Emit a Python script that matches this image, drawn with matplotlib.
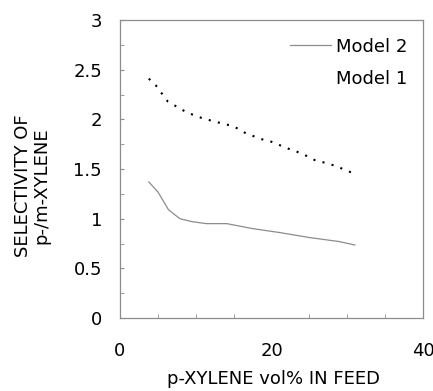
import matplotlib
matplotlib.use("Agg")
import matplotlib.pyplot as plt
from matplotlib.ticker import MultipleLocator
from matplotlib.lines import Line2D

plt.rcParams['font.family'] = ['DejaVu Sans']

# Model 2 (solid gray line)
m2_x = [3.8, 5.0, 6.4, 7.9, 9.5, 11.4, 14.1, 17.5, 21.1, 25.0, 28.9, 31.0]
m2_y = [1.37, 1.27, 1.09, 1.00, 0.97, 0.95, 0.95, 0.90, 0.86, 0.81, 0.77, 0.735]

# Model 1 (dotted black line)
m1_x = [3.8, 4.75, 6.3, 8.8, 10.9, 12.9, 15.0, 16.6, 18.7, 19.8, 22.7, 23.9, 25.7, 27.7, 28.8, 31.0]
m1_y = [2.41, 2.34, 2.18, 2.07, 2.01, 1.97, 1.93, 1.86, 1.80, 1.78, 1.69, 1.66, 1.59, 1.55, 1.52, 1.45]

x_ticks = [0, 20, 40]
y_ticks = [0, 0.5, 1, 1.5, 2, 2.5, 3]
y_ticklabels = ['0', '0.5', '1', '1.5', '2', '2.5', '3']

FS = 13

fig = plt.figure(figsize=(4.33, 3.91), dpi=100)
ax = fig.add_axes([120/433, 1 - 318/391, (423-120)/433, (318-20)/391])

ax.plot(m2_x, m2_y, color='#8c8c8c', lw=0.9, label='Model 2')
ax.plot(m1_x, m1_y, color='black', lw=1.5, linestyle=(0, (1, 3.5)), label='_nolegend_')

ax.set_xlim(0, 40)
ax.set_ylim(0, 3)
ax.set_xticks(x_ticks)
ax.set_xticklabels([str(v) for v in x_ticks])
ax.set_yticks(y_ticks)
ax.set_yticklabels(y_ticklabels)
ax.xaxis.set_minor_locator(MultipleLocator(5))
ax.yaxis.set_minor_locator(MultipleLocator(0.25))

for s in ax.spines.values():
    s.set_color('#8c8c8c')
    s.set_linewidth(0.9)

ax.tick_params(axis='both', which='both', direction='in', color='#8c8c8c',
               labelsize=FS, top=False, right=False)
ax.tick_params(axis='y', which='major', length=3, pad=13)
ax.tick_params(axis='y', which='minor', length=3)
ax.tick_params(axis='x', which='major', length=0, pad=17)
ax.tick_params(axis='x', which='minor', length=3)

ax.set_xlabel('p-XYLENE vol% IN FEED', fontsize=FS)
ax.xaxis.set_label_coords(0.508, -0.175)
ax.set_ylabel('SELECTIVITY OF\np-/m-XYLENE', fontsize=FS, linespacing=1.0)
ax.yaxis.label.set_va('center')
ax.yaxis.set_label_coords(-0.29, 0.443)

handles = [Line2D([], [], color='#8c8c8c', lw=0.9),
           Line2D([], [], color='none', lw=0)]
ax.legend(handles, ['Model 2', 'Model 1'], loc='upper left', frameon=False,
          fontsize=FS, handlelength=2.3, handletextpad=0.28,
          bbox_to_anchor=(0.536, 0.965), borderaxespad=0, labelspacing=0.8)

fig.savefig('out.png', dpi=100)
